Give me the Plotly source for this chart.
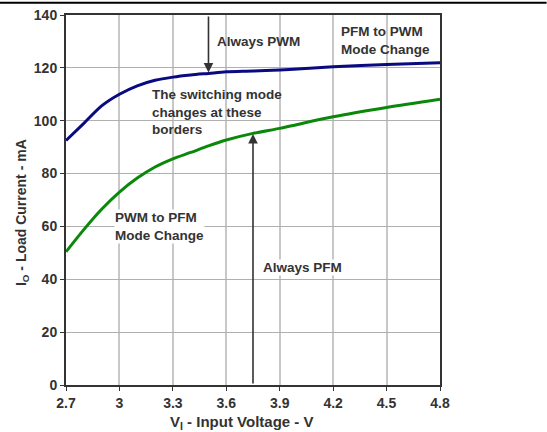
import plotly.graph_objects as go

# Mode-change borders
vin_pfm_to_pwm = [2.7, 2.8, 2.9, 3.0, 3.1, 3.2, 3.3, 3.4, 3.5, 3.6, 3.75, 3.9, 4.0, 4.2, 4.5, 4.8]
io_pfm_to_pwm = [92.5, 99.0, 105.6, 110.0, 113.2, 115.3, 116.5, 117.3, 117.9, 118.5, 118.8, 119.2, 119.6, 120.4, 121.3, 121.9]

vin_pwm_to_pfm = [2.7, 2.8, 2.9, 3.0, 3.1, 3.2, 3.3, 3.4, 3.5, 3.6, 3.75, 3.9, 4.0, 4.2, 4.5, 4.8]
io_pwm_to_pfm = [50.4, 58.8, 66.5, 73.0, 78.3, 82.5, 85.6, 88.0, 90.5, 92.7, 95.2, 97.1, 98.6, 101.5, 105.0, 108.1]

x_ticks = [2.7, 3.0, 3.3, 3.6, 3.9, 4.2, 4.5, 4.8]
x_ticktext = ['2.7', '3', '3.3', '3.6', '3.9', '4.2', '4.5', '4.8']
y_ticks = [0, 20, 40, 60, 80, 100, 120, 140]

TXT = '#333333'
FONT = 'Liberation Sans, Arial, sans-serif'

fig = go.Figure()

fig.add_trace(go.Scatter(
    x=vin_pfm_to_pwm, y=io_pfm_to_pwm, mode='lines',
    line=dict(color='#0a0a80', width=3, shape='spline', smoothing=0.8),
    name='PFM to PWM'
))
fig.add_trace(go.Scatter(
    x=vin_pwm_to_pfm, y=io_pwm_to_pfm, mode='lines',
    line=dict(color='#0a880a', width=3, shape='spline', smoothing=0.8),
    name='PWM to PFM'
))

# arrows
fig.add_annotation(x=3.5, y=118.2, ax=3.5, ay=140, xref='x', yref='y', axref='x', ayref='y',
                   showarrow=True, arrowhead=2, arrowsize=1.2, arrowwidth=1.6, arrowcolor=TXT, text='')
fig.add_annotation(x=3.75, y=95.0, ax=3.75, ay=0, xref='x', yref='y', axref='x', ayref='y',
                   showarrow=True, arrowhead=2, arrowsize=1.2, arrowwidth=1.6, arrowcolor=TXT, text='')

labels = [
    (3.54, 129.8, '<b>Always PWM</b>', False),
    (4.24, 130.2, '<b>PFM to PWM<br>Mode Change</b>', False),
    (3.175, 103.3, '<b>The switching mode<br>changes at these<br>borders</b>', False),
    (2.97, 59.8, '<b>PWM to PFM<br>Mode Change</b>', True),
    (3.80, 44.6, '<b>Always PFM</b>', True),
]
for x, y, t, bg in labels:
    fig.add_annotation(x=x, y=y, text=t, showarrow=False, xanchor='left', yanchor='middle',
                       align='left', font=dict(family=FONT, size=13.5, color=TXT),
                       bgcolor='white' if bg else None, borderpad=0)

# axis titles placed as in the reference
fig.add_annotation(x=0.468, y=-0.1025, xref='paper', yref='paper', showarrow=False,
                   text='<b>V<sub>I</sub> - Input Voltage - V</b>', xanchor='center', yanchor='middle',
                   font=dict(family=FONT, size=15, color=TXT))
fig.add_annotation(x=-0.118, y=0.467, xref='paper', yref='paper', showarrow=False, textangle=-90,
                   text='<b>I<sub>O</sub> - Load Current - mA</b>', xanchor='center', yanchor='middle',
                   font=dict(family=FONT, size=14, color=TXT))

# thin black rule across the top of the image
fig.add_shape(type='line', xref='paper', yref='paper', x0=-0.18, x1=1.285, y0=1.033, y1=1.033,
              line=dict(color='black', width=2))

tickfont = dict(family=FONT, size=14, color=TXT, weight='bold')

fig.update_layout(
    width=547, height=432,
    margin=dict(l=66, r=107, t=15, b=47),
    plot_bgcolor='white', paper_bgcolor='white',
    showlegend=False,
    font=dict(family=FONT, color=TXT),
    xaxis=dict(
        range=[2.7, 4.8], tickvals=x_ticks, ticktext=x_ticktext,
        showgrid=True, gridcolor='#c8c8c8', gridwidth=1.5,
        showline=True, linecolor=TXT, linewidth=2, mirror=True,
        ticks='outside', ticklen=4, tickcolor=TXT, zeroline=False,
        tickfont=tickfont, automargin=False,
    ),
    yaxis=dict(
        range=[0, 140], tickvals=y_ticks,
        showgrid=True, gridcolor='#b0b0b0', gridwidth=1.2,
        showline=True, linecolor=TXT, linewidth=2, mirror=True,
        ticks='outside', ticklen=4, tickcolor=TXT, zeroline=False,
        tickfont=tickfont, automargin=False,
    ),
)

# drop the browser's default body margin so the figure sits at the window's corner
fig.write_html("out.html", config={'displayModeBar': False},
               post_script="document.body.style.margin='0px';")
